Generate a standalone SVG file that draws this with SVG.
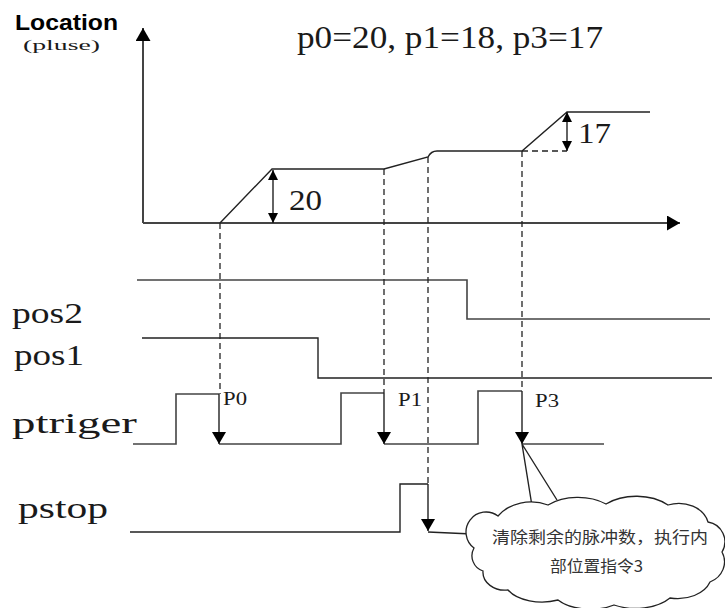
<svg xmlns="http://www.w3.org/2000/svg" width="725" height="608" viewBox="0 0 725 608">
<style>
.ln{fill:none;stroke:#222;stroke-width:1.4}
.sg{fill:none;stroke:#444;stroke-width:1.6}
.ds{fill:none;stroke:#222;stroke-width:1.3;stroke-dasharray:6 4}
.ax{fill:none;stroke:#444;stroke-width:2}
.t{font-family:"Liberation Serif","DejaVu Serif",serif;fill:#1a1a1a}
.cn{font-family:"Noto Sans CJK SC",sans-serif;fill:#333;font-size:16px}
</style>
<defs>
<marker id="ah" markerUnits="userSpaceOnUse" markerWidth="12" markerHeight="14" refX="12" refY="7" orient="auto" viewBox="0 0 12 14"><path d="M0,0 L12,7 L0,14 z" fill="#000"/></marker>
<marker id="sa" markerUnits="userSpaceOnUse" markerWidth="10" markerHeight="10" refX="10" refY="5" orient="auto" viewBox="0 0 10 10"><path d="M0,0 L10,5 L0,10 z" fill="#000"/></marker>
<marker id="axh" markerUnits="userSpaceOnUse" markerWidth="13" markerHeight="15" refX="13" refY="7.5" orient="auto" viewBox="0 0 13 15"><path d="M0,0 L13,7.5 L0,15 z" fill="#000"/></marker>
</defs>

<g id="labels">
<text x="15" y="30" font-family="Liberation Sans,Arial,sans-serif" font-weight="bold" font-size="22" textLength="103" lengthAdjust="spacingAndGlyphs">Location</text>
<text class="t" x="23" y="50" font-size="15" textLength="77" lengthAdjust="spacingAndGlyphs">(pluse)</text>
<text class="t" x="297" y="48" font-size="31" textLength="306" lengthAdjust="spacingAndGlyphs">p0=20, p1=18, p3=17</text>
<text class="t" x="289" y="210" font-size="30" textLength="33" lengthAdjust="spacingAndGlyphs">20</text>
<text class="t" x="578" y="143" font-size="30" textLength="33" lengthAdjust="spacingAndGlyphs">17</text>
<text class="t" x="12" y="323" font-size="29" textLength="71" lengthAdjust="spacingAndGlyphs">pos2</text>
<text class="t" x="14" y="365" font-size="29" textLength="70" lengthAdjust="spacingAndGlyphs">pos1</text>
<text class="t" x="12" y="433" font-size="29" textLength="125" lengthAdjust="spacingAndGlyphs">ptriger</text>
<text class="t" x="18" y="518" font-size="29" textLength="90" lengthAdjust="spacingAndGlyphs">pstop</text>
<text class="t" x="223" y="405" font-size="19" textLength="24" lengthAdjust="spacingAndGlyphs">P0</text>
<text class="t" x="398" y="406" font-size="19" textLength="24" lengthAdjust="spacingAndGlyphs">P1</text>
<text class="t" x="535" y="407" font-size="19" textLength="24" lengthAdjust="spacingAndGlyphs">P3</text>
</g>

<g id="axes">
<line class="ax" x1="143" y1="223" x2="143" y2="28" marker-end="url(#axh)"/>
<line class="ax" x1="143" y1="223" x2="680" y2="223" marker-end="url(#axh)"/>
</g>

<g id="position-curve">
<path class="ln" d="M220,223 L272,169 L384,169 L428,157 Q431,151 437,151 L522,151 L567,112 L650,112"/>
<line class="ds" x1="522" y1="151" x2="567" y2="151"/>
<line class="ln" x1="273" y1="196" x2="273" y2="170" marker-end="url(#sa)"/>
<line class="ln" x1="273" y1="196" x2="273" y2="223" marker-end="url(#sa)"/>
<line class="ln" x1="567" y1="131" x2="567" y2="112" marker-end="url(#sa)"/>
<line class="ln" x1="567" y1="131" x2="567" y2="151" marker-end="url(#sa)"/>
</g>

<g id="pos2">
<path class="sg" d="M137,280 L467,280 L467,319 L710,319"/>
</g>
<g id="pos1">
<path class="ln" d="M142,338 L318,338 L318,378 L712,378"/>
</g>
<g id="ptriger">
<path class="sg" d="M133,444 L176,444 L176,394 L219,394"/>
<path class="sg" d="M219,444 L341,444 L341,393 L384,393"/>
<path class="sg" d="M384,444 L478,444 L478,391 L522,391"/>
<path class="sg" d="M522,444 L604,444"/>
</g>
<g id="pstop">
<path class="ln" d="M130,532 L400,532 L400,484 L428,484"/>
</g>

<g id="connectors">
<line class="ds" x1="220" y1="223" x2="220" y2="394"/>
<line class="ds" x1="384" y1="169" x2="384" y2="393"/>
<line class="ds" x1="428" y1="157" x2="428" y2="484"/>
<line class="ds" x1="522" y1="151" x2="522" y2="391"/>
<line class="ln" x1="219" y1="394" x2="219" y2="444" marker-end="url(#ah)"/>
<line class="ln" x1="384" y1="393" x2="384" y2="444" marker-end="url(#ah)"/>
<line class="ln" x1="522" y1="391" x2="522" y2="444" marker-end="url(#ah)"/>
<line class="ln" x1="428" y1="484" x2="428" y2="531" marker-end="url(#ah)"/>
<path class="ln" d="M428,532 L472,534"/>
<path class="ln" d="M532,506 L522,444 L557,500"/>
</g>

<g id="cloud">
<path fill="#fff" stroke="#222" stroke-width="1.3" d="M474,548 A20,20 0 0 1 498,516 A40,32 0 0 1 548,505 A45,30 0 0 1 606,504 A45,30 0 0 1 668,505 A30,24 0 0 1 708,522 A20,20 0 0 1 722,552 A24,22 0 0 1 710,582 A34,24 0 0 1 670,598 A42,24 0 0 1 614,605 A40,22 0 0 1 558,600 A38,22 0 0 1 508,590 A22,18 0 0 1 483,571 A16,16 0 0 1 474,548 Z"/>
<text class="cn" x="492" y="543" textLength="216" lengthAdjust="spacingAndGlyphs">清除剩余的脉冲数，执行内</text>
<text class="cn" x="550" y="572" textLength="93" lengthAdjust="spacingAndGlyphs">部位置指令3</text>
</g>
</svg>
